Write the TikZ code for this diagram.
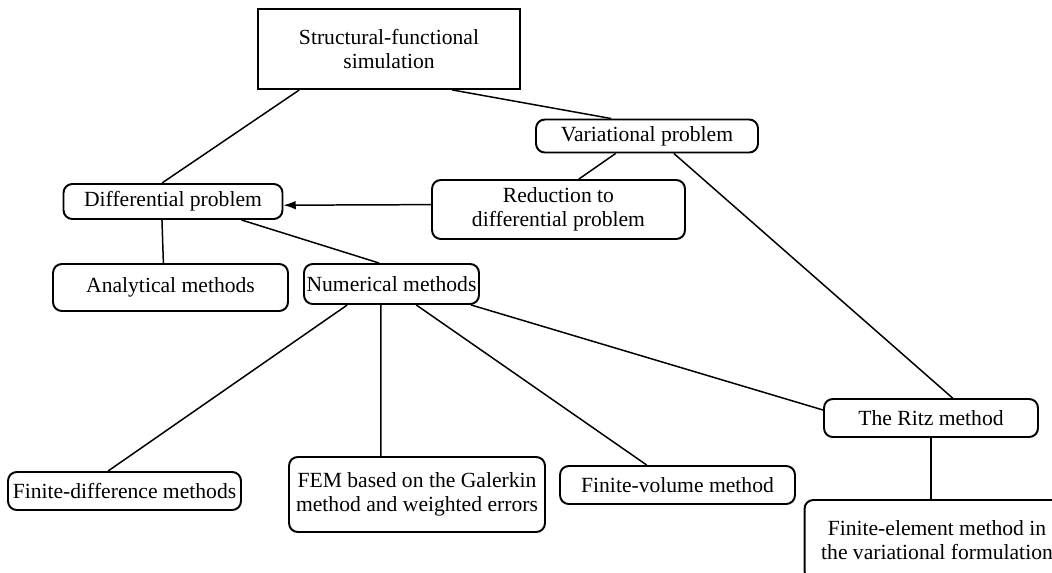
\documentclass[tikz,border=0pt]{standalone}
\usepackage{fontspec}
\setmainfont{Liberation Serif}
\usetikzlibrary{arrows,arrows.meta}
\usetikzlibrary{calc}

\tikzset{
  box/.style={draw, line width=1.1pt, rounded corners=5pt, align=center, inner sep=0pt,
    font=\fontsize{12.3}{13.8}\selectfont},
  link/.style={line width=0.85pt},
}

\begin{document}
\begin{tikzpicture}[x=0.02cm, y=-0.02cm]
  \useasboundingbox (0,0) rectangle (1052,572);

  % boxes
  \node[box, rounded corners=0pt, minimum width=5.24cm, minimum height=1.6cm] (sfs) at (389,49) {Structural-functional\\simulation};
  \node[box, minimum width=4.44cm, minimum height=0.66cm] (var) at (647,136) {Variational problem};
  \node[box, minimum width=4.38cm, minimum height=0.7cm] (diff) at (173,201.5) {Differential problem};
  \node[box, minimum width=5.06cm, minimum height=1.18cm] (red) at (558.5,209.5) {Reduction to\\differential problem};
  \node[box, minimum width=4.7cm, minimum height=0.94cm] (ana) at (170.5,287.5) {Analytical methods};
  \node[box, minimum width=3.5cm, minimum height=0.8cm] (num) at (391.5,284) {Numerical methods};
  \node[box, minimum width=4.28cm, minimum height=0.76cm] (ritz) at (931,418) {The Ritz method};
  \node[box, minimum width=4.66cm, minimum height=0.76cm] (fdm) at (124.5,491) {Finite-difference methods};
  \node[box, minimum width=5.12cm, minimum height=1.5cm] (fem) at (417,494.5) {FEM based on the Galerkin\\method and weighted errors};
  \node[box, minimum width=4.7cm, minimum height=0.76cm] (fvm) at (677.5,485) {Finite-volume method};
  \node[box, minimum width=5.3cm, minimum height=1.6cm] (fev) at (937,540) {Finite-element method in\\the variational formulation};

  % connectors
  \draw[link] ($(sfs.south west)!0.16!(sfs.south east)$) -- ($(diff.north west)!0.45!(diff.north east)$);
  \draw[link] ($(sfs.south west)!0.74!(sfs.south east)$) -- ($(var.north west)!0.34!(var.north east)$);
  \draw[link] ($(var.south west)!0.36!(var.south east)$) -- ($(red.north west)!0.58!(red.north east)$);
  \draw[link] ($(var.south west)!0.62!(var.south east)$) -- ($(ritz.north west)!0.6!(ritz.north east)$);
  \draw[link, -{Latex[length=7pt, width=5pt]}] ($(red.north west)!0.42!(red.south west)$) -- ($(diff.north east)!0.6!(diff.south east)$);
  \draw[link] ($(diff.south west)!0.45!(diff.south east)$) -- ($(ana.north west)!0.47!(ana.north east)$);
  \draw[link] ($(diff.south west)!0.81!(diff.south east)$) -- ($(num.north west)!0.43!(num.north east)$);
  \draw[link] ($(num.south west)!0.25!(num.south east)$) -- ($(fdm.north west)!0.43!(fdm.north east)$);
  \draw[link] ($(num.south west)!0.44!(num.south east)$) -- ($(fem.north west)!0.36!(fem.north east)$);
  \draw[link] ($(num.south west)!0.64!(num.south east)$) -- ($(fvm.north west)!0.37!(fvm.north east)$);
  \draw[link] ($(num.south west)!0.95!(num.south east)$) -- ($(ritz.north west)!0.3!(ritz.south west)$);
  \draw[link] (ritz.south) -- (fev.north -| ritz.south);

\end{tikzpicture}
\end{document}
